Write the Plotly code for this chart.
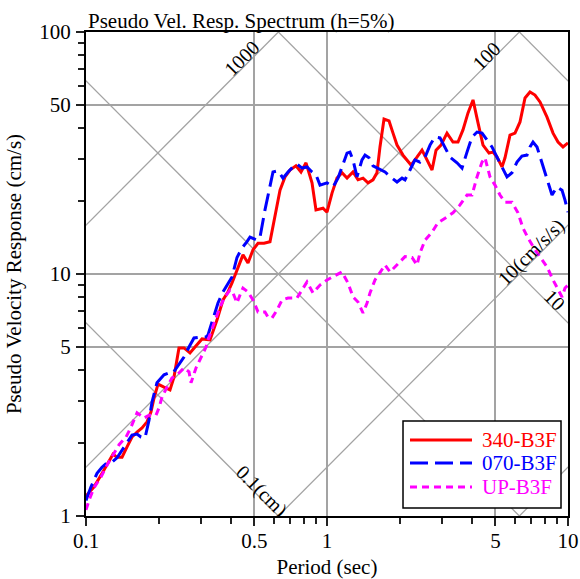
import numpy as np
import plotly.graph_objects as go

# ---------------- data (period in s, pseudo velocity in cm/s) ----------------
period_340 = [0.100, 0.108, 0.1165, 0.1234, 0.1294, 0.1345, 0.1411, 0.148, 0.1552, 0.1628,
              0.1708, 0.1791, 0.186, 0.1915, 0.199, 0.2107, 0.2231, 0.2318, 0.2431, 0.2551,
              0.2701, 0.2834, 0.303, 0.327, 0.3495, 0.3702, 0.3882, 0.4035, 0.4232, 0.4481,
              0.4701, 0.4932, 0.5173, 0.5478, 0.580, 0.6085, 0.6383, 0.6696, 0.7022, 0.7436,
              0.780, 0.8182, 0.8666, 0.9001, 0.9625, 1.000, 1.049, 1.100, 1.154, 1.211,
              1.282, 1.345, 1.411, 1.480, 1.552, 1.612, 1.659, 1.724, 1.809, 1.879,
              1.952, 2.067, 2.231, 2.362, 2.479, 2.575, 2.728, 2.834, 2.972, 3.147,
              3.239, 3.332, 3.496, 3.666, 3.847, 4.035, 4.233, 4.440, 4.702, 4.885,
              5.075, 5.323, 5.478, 5.745, 6.027, 6.323, 6.632, 6.955, 7.296, 7.654,
              8.184, 8.667, 9.09, 9.535, 10.0]
sv_340 = [1.21, 1.32, 1.50, 1.66, 1.80, 1.75, 1.75, 1.93, 2.12, 2.22,
          2.31, 2.45, 2.69, 3.07, 3.51, 3.41, 3.32, 3.75, 4.95, 4.95,
          4.72, 4.99, 5.39, 5.34, 6.45, 7.81, 8.43, 9.18, 10.4, 12.0,
          11.1, 12.6, 13.4, 13.4, 13.6, 17.5, 22.2, 25.2, 26.9, 28.0,
          26.4, 28.8, 23.8, 18.4, 18.7, 18.0, 21.6, 24.9, 26.2, 24.9,
          26.4, 24.5, 24.9, 23.8, 24.5, 26.2, 33.5, 43.7, 42.9, 38.2,
          34.1, 31.0, 28.2, 30.4, 32.5, 30.2, 26.9, 32.5, 34.1, 38.2,
          36.8, 35.1, 35.1, 39.4, 46.3, 52.4, 42.1, 34.1, 31.6, 31.9,
          30.4, 27.7, 30.2, 37.5, 38.2, 42.5, 53.4, 56.5, 54.9, 51.4,
          44.5, 38.2, 35.1, 33.5, 34.8]

period_070 = [0.100, 0.1049, 0.1111, 0.1165, 0.1222, 0.1282, 0.1345, 0.1411, 0.148, 0.1552,
              0.1628, 0.1691, 0.1757, 0.1826, 0.1879, 0.1933, 0.197, 0.2107, 0.221, 0.2296,
              0.2431, 0.2551, 0.2676, 0.2806, 0.300, 0.3148, 0.3208, 0.3365, 0.3529, 0.3702,
              0.3882, 0.4035, 0.4232, 0.4439, 0.4656, 0.4791, 0.5124, 0.5272, 0.5529, 0.580,
              0.5969, 0.6262, 0.6568, 0.6889, 0.7226, 0.7508, 0.7877, 0.8261, 0.8666, 0.9001,
              0.9354, 1.000, 1.059, 1.111, 1.165, 1.211, 1.245, 1.282, 1.332, 1.397,
              1.438, 1.494, 1.552, 1.628, 1.741, 1.861, 1.952, 2.048, 2.107, 2.21,
              2.318, 2.431, 2.551, 2.676, 2.806, 2.944, 3.089, 3.239, 3.463, 3.633,
              3.81, 3.996, 4.193, 4.398, 4.612, 4.838, 5.075, 5.323, 5.584, 5.856,
              6.142, 6.44, 6.758, 6.955, 7.159, 7.437, 7.8, 8.184, 8.583, 9.002,
              9.443, 9.718, 10.0]
sv_070 = [1.16, 1.32, 1.50, 1.59, 1.66, 1.67, 1.74, 1.87, 2.02, 2.16,
          2.18, 2.12, 2.10, 2.49, 2.96, 3.32, 3.55, 3.83, 3.90, 3.90,
          4.21, 4.54, 4.99, 5.44, 5.49, 5.49, 5.60, 6.45, 7.59, 8.43,
          9.18, 9.72, 11.7, 12.8, 13.6, 14.2, 13.8, 14.2, 18.4, 22.9,
          26.4, 26.7, 24.9, 26.4, 27.7, 28.5, 27.4, 27.7, 26.4, 25.7,
          23.3, 23.8, 22.9, 24.9, 28.2, 31.6, 31.9, 29.6, 25.2, 29.6,
          31.0, 30.2, 28.0, 27.4, 26.4, 24.9, 24.0, 24.9, 24.5, 26.9,
          29.6, 29.0, 30.4, 34.1, 36.8, 36.5, 33.5, 30.4, 28.8, 27.4,
          31.9, 36.8, 38.6, 38.2, 35.8, 33.5, 30.4, 27.7, 25.2, 26.2,
          29.0, 30.7, 31.0, 33.5, 35.1, 33.5, 28.8, 24.5, 21.2, 22.9,
          22.2, 20.2, 18.0]

period_up = [0.100, 0.1029, 0.108, 0.1154, 0.1222, 0.1307, 0.1371, 0.1466, 0.1537, 0.1628,
             0.1741, 0.1826, 0.1952, 0.2009, 0.2067, 0.2168, 0.2275, 0.2385, 0.2551, 0.2676,
             0.2728, 0.286, 0.300, 0.3148, 0.3208, 0.3365, 0.3597, 0.3773, 0.3958, 0.4073,
             0.4232, 0.4355, 0.4481, 0.4701, 0.4932, 0.5173, 0.5529, 0.5691, 0.5912, 0.6202,
             0.6506, 0.6889, 0.7508, 0.7877, 0.8261, 0.8749, 0.9354, 1.000, 1.049, 1.154,
             1.222, 1.282, 1.345, 1.411, 1.466, 1.508, 1.582, 1.659, 1.741, 1.826,
             1.952, 2.107, 2.253, 2.362, 2.431, 2.551, 2.728, 2.888, 3.089, 3.332,
             3.564, 3.81, 3.996, 4.193, 4.398, 4.525, 4.746, 4.979, 5.222, 5.478,
             5.856, 6.2, 6.503, 6.823, 7.296, 7.654, 8.184, 8.667, 9.09, 9.443,
             9.718, 10.0]
sv_up = [1.06, 1.16, 1.31, 1.45, 1.62, 1.82, 1.97, 2.12, 2.33, 2.67,
         2.54, 2.61, 2.61, 2.80, 3.10, 3.41, 3.72, 3.83, 4.09, 3.94,
         3.55, 4.09, 4.54, 4.99, 5.34, 6.10, 7.30, 8.04, 8.59, 8.35,
         7.59, 8.19, 8.75, 8.43, 7.81, 6.97, 6.97, 6.64, 6.58, 7.10,
         7.81, 7.96, 7.96, 8.59, 9.27, 8.35, 9.00, 9.45, 9.72, 10.2,
         9.18, 8.04, 7.66, 6.90, 7.59, 8.35, 9.45, 10.2, 10.9, 10.2,
         10.9, 11.8, 11.7, 10.9, 12.2, 13.8, 14.9, 16.3, 17.0, 17.9,
         19.3, 21.2, 21.2, 25.2, 29.0, 30.2, 25.2, 23.3, 21.2, 19.8,
         19.8, 17.9, 15.5, 14.1, 12.6, 11.8, 10.7, 9.45, 8.59, 8.04,
         8.75, 9.00]

series_names = ["340-B3F", "070-B3F", "UP-B3F"]

# tripartite guide lines
disp_lines_cm = [0.1, 1, 10, 100]          # constant displacement (cm)
acc_lines_cmss = [1, 10, 100, 1000]        # constant acceleration (cm/s/s)

x_major = [0.1, 0.5, 1, 5, 10]
x_minor = [0.2, 0.3, 0.4, 0.6, 0.7, 0.8, 0.9, 2, 3, 4, 6, 7, 8, 9]
y_major = [1, 5, 10, 50, 100]
y_minor = [2, 3, 4, 6, 7, 8, 9, 20, 30, 40, 60, 70, 80, 90]

# ---------------- styling ----------------
FONT = "Liberation Serif"
GRID = "#a3a3a3"
TICK = "#222222"
styles = [
    dict(color="#ff0000", width=3, dash="solid"),
    dict(color="#0000ff", width=3, dash="18px,7px"),
    dict(color="#ff00ff", width=3, dash="7px,5px"),
]

fig = go.Figure()

W = 2 * np.pi
T_ext = np.array([0.03, 30.0])
for d in disp_lines_cm:
    fig.add_trace(go.Scatter(x=T_ext, y=W * d / T_ext, mode="lines",
                             line=dict(color=GRID, width=1.3),
                             hoverinfo="skip", showlegend=False))
for a in acc_lines_cmss:
    fig.add_trace(go.Scatter(x=T_ext, y=a * T_ext / W, mode="lines",
                             line=dict(color=GRID, width=1.3),
                             hoverinfo="skip", showlegend=False))

for name, xs, ys, st in zip(series_names,
                            [period_340, period_070, period_up],
                            [sv_340, sv_070, sv_up], styles):
    fig.add_trace(go.Scatter(x=xs, y=ys, mode="lines", name=name,
                             line=st, showlegend=False))

# labels on the guide lines
def acc_label(text, a, T, dx=-5, dy=5):
    fig.add_annotation(x=np.log10(T), y=np.log10(a * T / W), text=text,
                       showarrow=False, textangle=-45, xshift=dx, yshift=dy,
                       font=dict(family=FONT, size=20, color="black"))

def disp_label(text, d, T, dx=5, dy=5):
    fig.add_annotation(x=np.log10(T), y=np.log10(W * d / T), text=text,
                       showarrow=False, textangle=45, xshift=dx, yshift=dy,
                       font=dict(family=FONT, size=20, color="black"))

acc_label("1000", 1000, 0.466)
acc_label("100", 100, 4.79)
acc_label("10(cm/s/s)", 10, 7.36)
disp_label("10", 10, 8.41)
disp_label("0.1(cm)", 0.1, 0.517, dx=4, dy=4)

# title
fig.add_annotation(xref="paper", yref="paper", x=0, y=1, xanchor="left",
                   yanchor="bottom", yshift=-3, showarrow=False,
                   text="Pseudo Vel. Resp. Spectrum (h=5%)",
                   font=dict(family=FONT, size=21, color="black"))

# legend box (drawn)
lg_x0, lg_x1, lg_y0, lg_y1 = 0.6577, 0.9855, 0.0165, 0.1963
fig.add_shape(type="rect", xref="paper", yref="paper", x0=lg_x0, x1=lg_x1,
              y0=lg_y0, y1=lg_y1, line=dict(color="black", width=1.5),
              fillcolor="white", layer="above")
rows_y = [0.157, 0.1095, 0.0599]
for name, st, ry in zip(series_names, styles, rows_y):
    fig.add_shape(type="line", xref="paper", yref="paper", x0=0.6722, x1=0.8008,
                  y0=ry, y1=ry, line=st, layer="above")
    fig.add_annotation(xref="paper", yref="paper", x=0.8174, y=ry, xanchor="left",
                       yanchor="middle", showarrow=False, text=name,
                       font=dict(family=FONT, size=21, color=st["color"]))

axis_common = dict(type="log", showline=True, linecolor="black", linewidth=2,
                   mirror=True, ticks="outside", ticklen=8, tickwidth=2,
                   tickcolor=TICK, showgrid=True, gridcolor=GRID,
                   gridwidth=1.5, zeroline=False, automargin=False,
                   tickfont=dict(family=FONT, size=21, color="black"))

fig.update_xaxes(**axis_common, range=[-1, 1], tickmode="array",
                 tickvals=x_major, ticktext=[str(v) for v in x_major],
                 ticklabelstandoff=-3,
                 minor=dict(tickmode="array", tickvals=x_minor, ticks="outside",
                            ticklen=6, tickwidth=1.7, tickcolor=TICK,
                            showgrid=False),
                 title=dict(text="Period (sec)", standoff=8,
                            font=dict(family=FONT, size=21, color="black")))
fig.update_yaxes(**axis_common, range=[0, 2], tickmode="array",
                 tickvals=y_major, ticktext=[str(v) for v in y_major],
                 ticklabelstandoff=1,
                 minor=dict(tickmode="array", tickvals=y_minor, ticks="outside",
                            ticklen=6, tickwidth=1.7, tickcolor=TICK,
                            showgrid=False),
                 title=dict(text="Pseudo Velocity Response (cm/s)", standoff=12,
                            font=dict(family=FONT, size=21, color="black")))

fig.update_layout(width=580, height=579, autosize=False,
                  margin=dict(l=86, r=12, t=32, b=63, pad=0, autoexpand=False),
                  paper_bgcolor="white", plot_bgcolor="white",
                  showlegend=False, template="none")

fig.write_html("out.html", config={"displayModeBar": False},
               post_script="document.body.style.margin='0';"
                           "document.body.style.overflow='hidden';")
